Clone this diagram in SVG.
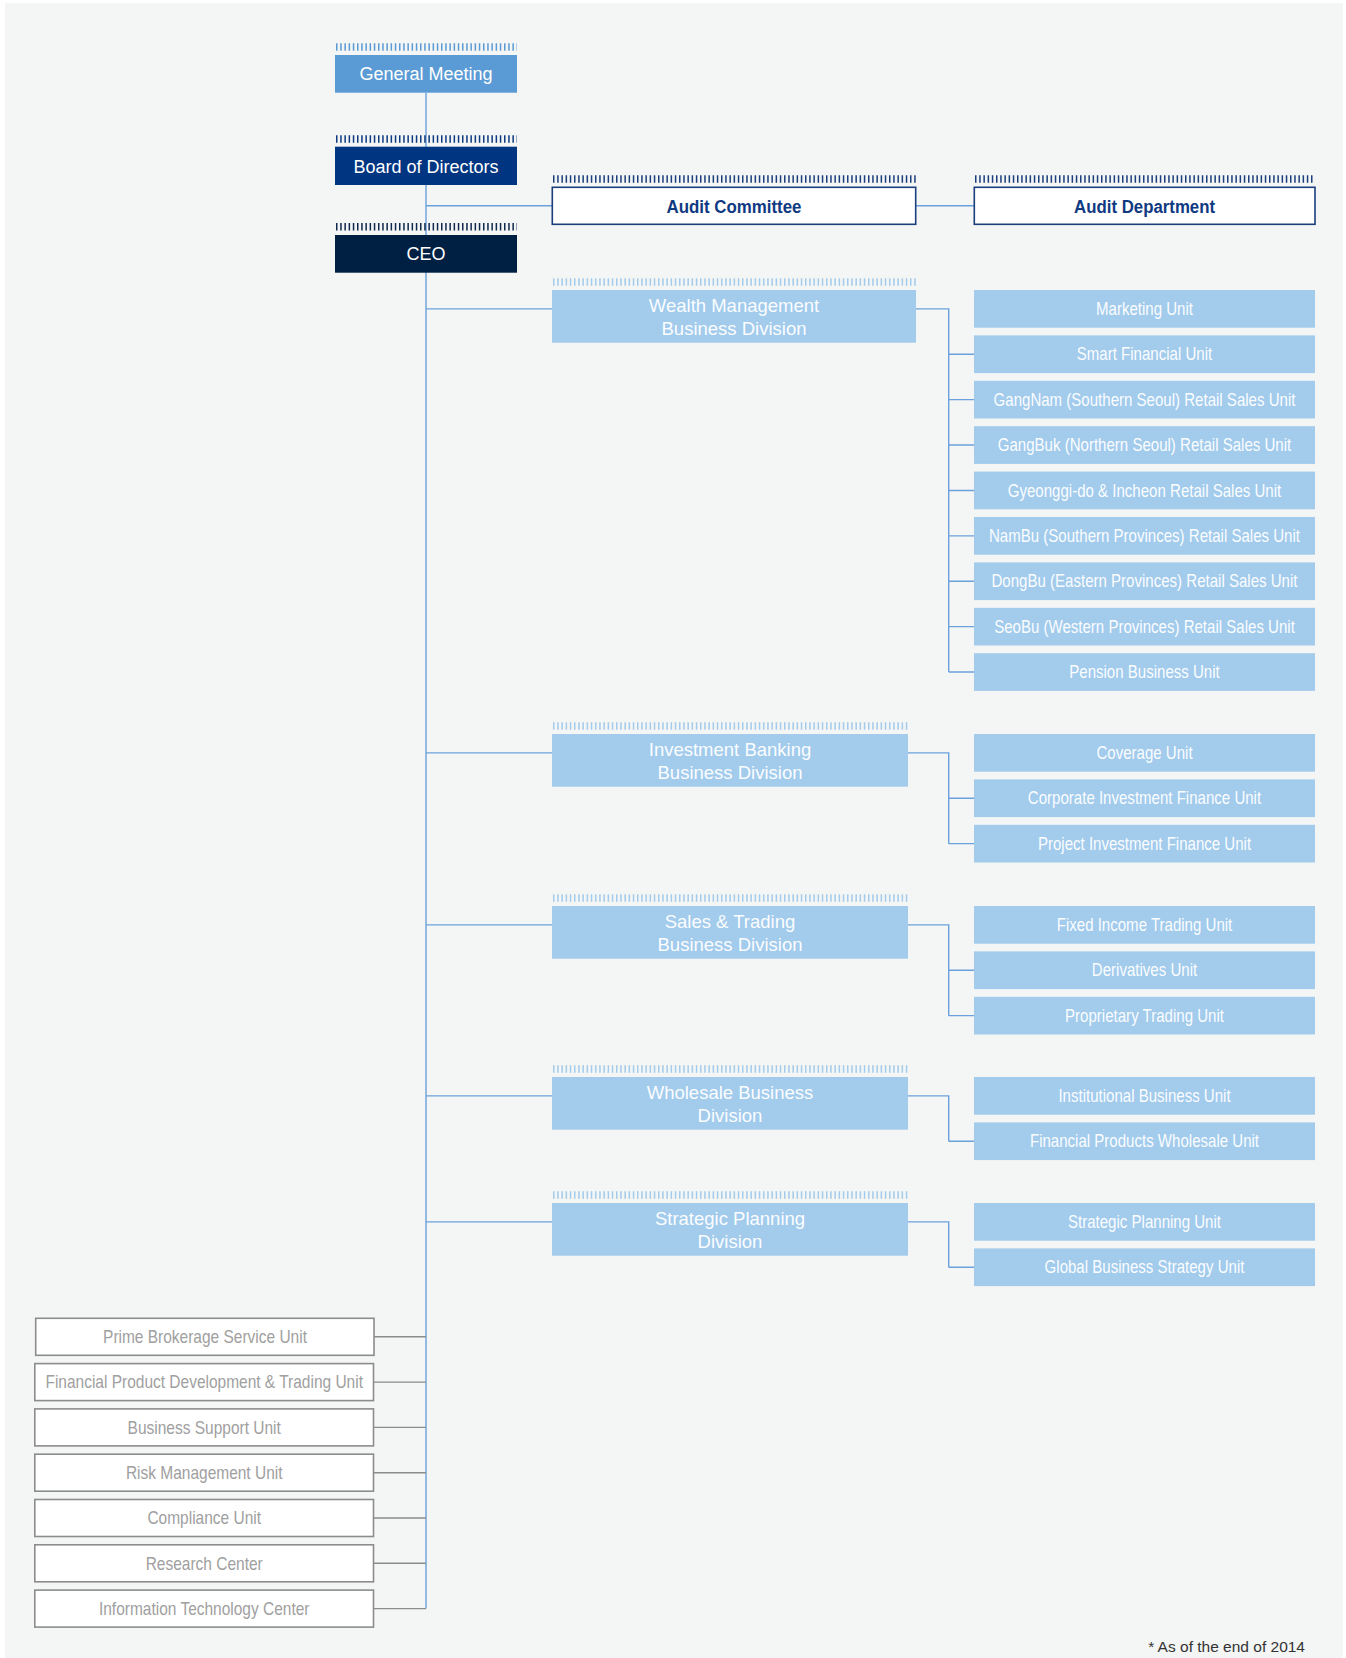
<svg xmlns="http://www.w3.org/2000/svg" width="1346" height="1658" viewBox="0 0 1346 1658">
<style>
.bg{fill:#f4f5f5}
.ln{fill:none;stroke:#6ba1dc;stroke-width:1.4}
.lg{fill:none;stroke:#8c8c8c;stroke-width:1.4}
.tk{stroke-width:7.5;stroke-dasharray:1.5 2.7}
.top{font-family:"Liberation Sans",Arial,sans-serif;font-size:18px;fill:#ffffff;text-anchor:middle}
.aud{fill:#ffffff;stroke:#1b3f7d;stroke-width:1.6}
.audt{font-family:"Liberation Sans",Arial,sans-serif;font-size:18px;font-weight:bold;fill:#0f3a82;text-anchor:middle}
.div{fill:#a2cbec}
.divt{font-family:"Liberation Sans",Arial,sans-serif;font-size:18.5px;fill:#fbfdff;text-anchor:middle}
.unit{fill:#a2cbec}
.ut{font-family:"Liberation Sans",Arial,sans-serif;font-size:17.5px;fill:#fbfdff;text-anchor:middle}
.lb{fill:#ffffff;stroke:#8c8c8c;stroke-width:1.6}
.lt{font-family:"Liberation Sans",Arial,sans-serif;font-size:17.5px;fill:#a0a0a0;text-anchor:middle}
.note{font-family:"Liberation Sans",Arial,sans-serif;font-size:15.5px;fill:#333333;text-anchor:end}
</style>
<rect x="0" y="0" width="1346" height="1658" fill="#ffffff"/>
<rect class="bg" x="5" y="3" width="1338" height="1655"/>

<g id="connectors">
<path class="ln" d="M426 92.7 V1608.6"/>
<path class="ln" d="M426 205.8 H552.3 M915.7 205.8 H974.3"/>
<path class="ln" d="M426 308.85 H552 M916 308.85 H948.7 V672.05 M948.7 354.25 H974 M948.7 399.65 H974 M948.7 445.05 H974 M948.7 490.45 H974 M948.7 535.85 H974 M948.7 581.25 H974 M948.7 626.65 H974 M948.7 672.05 H974"/>
<path class="ln" d="M426 752.85 H552 M908 752.85 H948.7 V843.65 M948.7 798.25 H974 M948.7 843.65 H974"/>
<path class="ln" d="M426 924.85 H552 M908 924.85 H948.7 V1015.65 M948.7 970.25 H974 M948.7 1015.65 H974"/>
<path class="ln" d="M426 1095.85 H552 M908 1095.85 H948.7 V1141.25 M948.7 1141.25 H974"/>
<path class="ln" d="M426 1221.85 H552 M908 1221.85 H948.7 V1267.25 M948.7 1267.25 H974"/>
<path class="lg" d="M374 1336.8 H426 M373.5 1382.1 H426 M373.5 1427.4 H426 M373.5 1472.7 H426 M373.5 1518 H426 M373.5 1563.3 H426 M373.5 1608.6 H426"/>
</g>

<g id="general-meeting">
<line class="tk" x1="336" y1="47" x2="517" y2="47" stroke="#5b9bd5"/>
<rect x="335" y="55" width="182" height="37.7" fill="#5b9bd5"/>
<text class="top" x="426" y="80.3">General Meeting</text>
</g>
<g id="board">
<line class="tk" x1="336" y1="139" x2="517" y2="139" stroke="#0d3a80"/>
<rect x="335" y="146.7" width="182" height="38.3" fill="#003581"/>
<text class="top" x="426" y="172.6">Board of Directors</text>
</g>
<g id="ceo">
<line class="tk" x1="336" y1="226.8" x2="517" y2="226.8" stroke="#0f2a4f"/>
<rect x="335" y="235" width="182" height="37.7" fill="#002043"/>
<text class="top" x="426" y="260.4">CEO</text>
</g>

<g id="audit-committee">
<line class="tk" x1="553" y1="179" x2="916" y2="179" stroke="#1b3f7d"/>
<rect class="aud" x="552.3" y="187.3" width="363.4" height="37"/>
<text class="audt" x="734" y="212.7" textLength="135" lengthAdjust="spacingAndGlyphs">Audit Committee</text>
</g>
<g id="audit-department">
<line class="tk" x1="975" y1="179" x2="1315" y2="179" stroke="#1b3f7d"/>
<rect class="aud" x="974.3" y="187.3" width="340.7" height="37"/>
<text class="audt" x="1144.6" y="212.7" textLength="141" lengthAdjust="spacingAndGlyphs">Audit Department</text>
</g>

<g id="wealth-management">
<line class="tk" x1="553" y1="282" x2="916" y2="282" stroke="#a2cbec"/>
<rect class="div" x="552" y="290" width="364" height="52.7"/>
<text class="divt" x="734" y="312.3">Wealth Management</text>
<text class="divt" x="734" y="335">Business Division</text>
</g>
<g id="investment-banking">
<line class="tk" x1="553" y1="726" x2="908" y2="726" stroke="#a2cbec"/>
<rect class="div" x="552" y="734" width="356" height="52.7"/>
<text class="divt" x="730" y="756.3">Investment Banking</text>
<text class="divt" x="730" y="779">Business Division</text>
</g>
<g id="sales-trading">
<line class="tk" x1="553" y1="898" x2="908" y2="898" stroke="#a2cbec"/>
<rect class="div" x="552" y="906" width="356" height="52.7"/>
<text class="divt" x="730" y="928.3">Sales &amp; Trading</text>
<text class="divt" x="730" y="951">Business Division</text>
</g>
<g id="wholesale">
<line class="tk" x1="553" y1="1069" x2="908" y2="1069" stroke="#a2cbec"/>
<rect class="div" x="552" y="1077" width="356" height="52.7"/>
<text class="divt" x="730" y="1099.3">Wholesale Business</text>
<text class="divt" x="730" y="1122">Division</text>
</g>
<g id="strategic-planning">
<line class="tk" x1="553" y1="1195" x2="908" y2="1195" stroke="#a2cbec"/>
<rect class="div" x="552" y="1203" width="356" height="52.7"/>
<text class="divt" x="730" y="1225.3">Strategic Planning</text>
<text class="divt" x="730" y="1248">Division</text>
</g>

<g id="marketing-unit"><rect class="unit" x="974" y="290" width="341" height="37.7"/><text class="ut" transform="translate(1144.5 315.05) scale(0.86 1)">Marketing Unit</text></g>
<g id="smart-financial-unit"><rect class="unit" x="974" y="335.4" width="341" height="37.7"/><text class="ut" transform="translate(1144.5 360.45) scale(0.86 1)">Smart Financial Unit</text></g>
<g id="gangnam-unit"><rect class="unit" x="974" y="380.8" width="341" height="37.7"/><text class="ut" transform="translate(1144.5 405.85) scale(0.86 1)">GangNam (Southern Seoul) Retail Sales Unit</text></g>
<g id="gangbuk-unit"><rect class="unit" x="974" y="426.2" width="341" height="37.7"/><text class="ut" transform="translate(1144.5 451.25) scale(0.86 1)">GangBuk (Northern Seoul) Retail Sales Unit</text></g>
<g id="gyeonggi-unit"><rect class="unit" x="974" y="471.6" width="341" height="37.7"/><text class="ut" transform="translate(1144.5 496.65) scale(0.86 1)">Gyeonggi-do &amp; Incheon Retail Sales Unit</text></g>
<g id="nambu-unit"><rect class="unit" x="974" y="517" width="341" height="37.7"/><text class="ut" transform="translate(1144.5 542.05) scale(0.86 1)">NamBu (Southern Provinces) Retail Sales Unit</text></g>
<g id="dongbu-unit"><rect class="unit" x="974" y="562.4" width="341" height="37.7"/><text class="ut" transform="translate(1144.5 587.45) scale(0.86 1)">DongBu (Eastern Provinces) Retail Sales Unit</text></g>
<g id="seobu-unit"><rect class="unit" x="974" y="607.8" width="341" height="37.7"/><text class="ut" transform="translate(1144.5 632.85) scale(0.86 1)">SeoBu (Western Provinces) Retail Sales Unit</text></g>
<g id="pension-unit"><rect class="unit" x="974" y="653.2" width="341" height="37.7"/><text class="ut" transform="translate(1144.5 678.25) scale(0.86 1)">Pension Business Unit</text></g>

<g id="coverage-unit"><rect class="unit" x="974" y="734" width="341" height="37.7"/><text class="ut" transform="translate(1144.5 759.05) scale(0.86 1)">Coverage Unit</text></g>
<g id="corporate-investment-unit"><rect class="unit" x="974" y="779.4" width="341" height="37.7"/><text class="ut" transform="translate(1144.5 804.45) scale(0.86 1)">Corporate Investment Finance Unit</text></g>
<g id="project-investment-unit"><rect class="unit" x="974" y="824.8" width="341" height="37.7"/><text class="ut" transform="translate(1144.5 849.85) scale(0.86 1)">Project Investment Finance Unit</text></g>

<g id="fixed-income-unit"><rect class="unit" x="974" y="906" width="341" height="37.7"/><text class="ut" transform="translate(1144.5 931.05) scale(0.86 1)">Fixed Income Trading Unit</text></g>
<g id="derivatives-unit"><rect class="unit" x="974" y="951.4" width="341" height="37.7"/><text class="ut" transform="translate(1144.5 976.45) scale(0.86 1)">Derivatives Unit</text></g>
<g id="proprietary-unit"><rect class="unit" x="974" y="996.8" width="341" height="37.7"/><text class="ut" transform="translate(1144.5 1021.85) scale(0.86 1)">Proprietary Trading Unit</text></g>

<g id="institutional-unit"><rect class="unit" x="974" y="1077" width="341" height="37.7"/><text class="ut" transform="translate(1144.5 1102.05) scale(0.86 1)">Institutional Business Unit</text></g>
<g id="financial-products-wholesale-unit"><rect class="unit" x="974" y="1122.4" width="341" height="37.7"/><text class="ut" transform="translate(1144.5 1147.45) scale(0.86 1)">Financial Products Wholesale Unit</text></g>

<g id="strategic-planning-unit"><rect class="unit" x="974" y="1203" width="341" height="37.7"/><text class="ut" transform="translate(1144.5 1228.05) scale(0.86 1)">Strategic Planning Unit</text></g>
<g id="global-business-strategy-unit"><rect class="unit" x="974" y="1248.4" width="341" height="37.7"/><text class="ut" transform="translate(1144.5 1273.45) scale(0.86 1)">Global Business Strategy Unit</text></g>

<g id="prime-brokerage"><rect class="lb" x="35.7" y="1318.3" width="338.3" height="37"/><text class="lt" transform="translate(205 1343) scale(0.885 1)">Prime Brokerage Service Unit</text></g>
<g id="financial-product-dev"><rect class="lb" x="34.8" y="1363.6" width="338.7" height="37"/><text class="lt" transform="translate(204.2 1388.3) scale(0.885 1)">Financial Product Development &amp; Trading Unit</text></g>
<g id="business-support"><rect class="lb" x="34.8" y="1408.9" width="338.7" height="37"/><text class="lt" transform="translate(204.2 1433.6) scale(0.885 1)">Business Support Unit</text></g>
<g id="risk-management"><rect class="lb" x="34.8" y="1454.2" width="338.7" height="37"/><text class="lt" transform="translate(204.2 1478.9) scale(0.885 1)">Risk Management Unit</text></g>
<g id="compliance"><rect class="lb" x="34.8" y="1499.5" width="338.7" height="37"/><text class="lt" transform="translate(204.2 1524.2) scale(0.885 1)">Compliance Unit</text></g>
<g id="research-center"><rect class="lb" x="34.8" y="1544.8" width="338.7" height="37"/><text class="lt" transform="translate(204.2 1569.5) scale(0.885 1)">Research Center</text></g>
<g id="it-center"><rect class="lb" x="34.8" y="1590.1" width="338.7" height="37"/><text class="lt" transform="translate(204.2 1614.8) scale(0.885 1)">Information Technology Center</text></g>

<text class="note" x="1305" y="1651.5">* As of the end of 2014</text>
</svg>
